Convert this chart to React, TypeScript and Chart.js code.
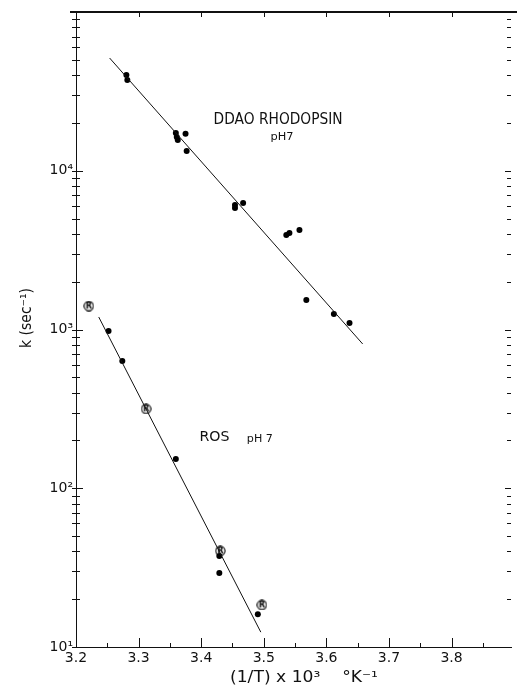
import { useEffect, useRef } from 'react';
import { Chart, registerables } from 'chart.js';

Chart.register(...registerables);

// DDAO rhodopsin, pH 7 (filled dots)
const ddaoX = [3.2805, 3.282, 3.3595, 3.361, 3.3626, 3.375, 3.3768, 3.454, 3.454, 3.467, 3.536, 3.541, 3.557, 3.568, 3.612, 3.637];
const ddaoK = [40100, 37300, 17300, 16300, 15600, 17100, 13300, 6080, 5820, 6270, 3940, 4050, 4240, 1535, 1253, 1099];
const ddaoFitX = [3.2537, 3.658];
const ddaoFitK = [51300, 811];

// ROS, pH 7 (filled dots and circled-R points)
const rosDotX = [3.252, 3.274, 3.3595, 3.429, 3.429, 3.4905];
const rosDotK = [979, 634, 153, 37.4, 29.2, 16.1];
const rosRX = [3.2205, 3.312, 3.4305, 3.497];
const rosRK = [1406, 316, 40.3, 18.4];
const rosFitX = [3.2363, 3.4953];
const rosFitK = [1199, 12.4];

// axes
const xTickValues = [3.2, 3.25, 3.3, 3.35, 3.4, 3.45, 3.5, 3.55, 3.6, 3.65, 3.7, 3.75, 3.8, 3.85];
const xTickLabels = ['3.2', '', '3.3', '', '3.4', '', '3.5', '', '3.6', '', '3.7', '', '3.8', ''];
const yDecades = [10, 100, 1000, 10000];
const yMantissas = [1, 2, 3, 4, 5, 6, 7, 8, 9];
const yDecadeLabels = ['10¹', '10²', '10³', '10⁴'];

const FONT = '"DejaVu Sans", "Liberation Sans", sans-serif';

const pairs = (xs: number[], ys: number[]) => xs.map((x, i) => ({ x, y: ys[i] }));

function makeRMarker(): HTMLCanvasElement {
  const c = document.createElement('canvas');
  c.width = 11;
  c.height = 11;
  const g = c.getContext('2d')!;
  g.strokeStyle = '#000';
  g.lineWidth = 1.1;
  g.beginPath();
  g.arc(5.5, 5.5, 4.6, 0, Math.PI * 2);
  g.stroke();
  g.fillStyle = '#000';
  g.font = 'bold 8px ' + FONT;
  g.textAlign = 'center';
  g.textBaseline = 'middle';
  g.fillText('R', 5.6, 6);
  return c;
}

function fitText(ctx: CanvasRenderingContext2D, text: string, cx: number, cy: number, size: number, width: number, rot = 0) {
  ctx.save();
  ctx.font = size + 'px ' + FONT;
  const w = ctx.measureText(text).width;
  ctx.translate(cx, cy);
  if (rot) ctx.rotate(rot);
  ctx.scale(width / w, 1);
  ctx.fillStyle = '#111';
  ctx.textAlign = 'center';
  ctx.textBaseline = 'middle';
  ctx.fillText(text, 0, 0);
  ctx.restore();
}

const framePlugin = {
  id: 'frame',
  afterDraw(chart: any) {
    const { ctx, chartArea: a, scales } = chart;
    const xs = scales.x;
    const ys = scales.y;
    ctx.save();
    ctx.strokeStyle = '#111';
    // top border
    ctx.lineWidth = 2;
    ctx.beginPath();
    ctx.moveTo(70, a.top);
    ctx.lineTo(517, a.top);
    ctx.stroke();
    ctx.lineWidth = 1;
    // y ticks left and right
    yDecades.forEach((d) => {
      yMantissas.forEach((m) => {
        const v = d * m;
        const py = Math.round(ys.getPixelForValue(v)) + 0.5;
        const major = m === 1;
        ctx.beginPath();
        ctx.moveTo(a.left - 4, py);
        ctx.lineTo(a.left + (major ? 7 : 4), py);
        ctx.moveTo(a.right - (major ? 6 : 4), py);
        ctx.lineTo(a.right, py);
        ctx.stroke();
      });
    });
    // x ticks bottom and top
    xTickValues.forEach((v, i) => {
      const px = Math.round(xs.getPixelForValue(v)) + 0.5;
      const major = xTickLabels[i] !== '';
      ctx.beginPath();
      ctx.moveTo(px, a.bottom);
      ctx.lineTo(px, a.bottom - (major ? 9 : 4));
      if (major) {
        ctx.moveTo(px, a.top);
        ctx.lineTo(px, a.top + 5);
      }
      ctx.stroke();
    });
    // annotations at data positions
    fitText(ctx, 'DDAO RHODOPSIN', xs.getPixelForValue(3.5229), ys.getPixelForValue(20880), 15, 129);
    fitText(ctx, 'pH7', xs.getPixelForValue(3.5292), ys.getPixelForValue(16320), 11, 23);
    fitText(ctx, 'ROS', xs.getPixelForValue(3.4211), ys.getPixelForValue(210), 14, 30);
    fitText(ctx, 'pH 7', xs.getPixelForValue(3.4937), ys.getPixelForValue(204), 11, 26);
    // axis titles
    fitText(ctx, 'k (sec⁻¹)', 27, 318, 15, 60, -Math.PI / 2);
    fitText(ctx, '(1/T) x 10³    °K⁻¹', 304, 678, 15, 148);
    ctx.restore();
  },
};

export default function App() {
  const ref = useRef<HTMLCanvasElement>(null);
  useEffect(() => {
    const canvas = ref.current!;
    const rMarker = makeRMarker();
    const chart = new Chart(canvas, {
      type: 'scatter',
      data: {
        datasets: [
          {
            type: 'line',
            data: pairs(ddaoFitX, ddaoFitK),
            borderColor: '#111',
            borderWidth: 1,
            pointRadius: 0,
            fill: false,
          },
          {
            type: 'line',
            data: pairs(rosFitX, rosFitK),
            borderColor: '#111',
            borderWidth: 1,
            pointRadius: 0,
            fill: false,
          },
          {
            data: pairs(ddaoX, ddaoK),
            backgroundColor: '#000',
            borderColor: '#000',
            pointRadius: 3,
            borderWidth: 0,
          },
          {
            data: pairs(rosDotX, rosDotK),
            backgroundColor: '#000',
            borderColor: '#000',
            pointRadius: 3,
            borderWidth: 0,
          },
          {
            data: pairs(rosRX, rosRK),
            pointStyle: rMarker,
            pointRadius: 5,
            backgroundColor: '#000',
            borderColor: '#000',
          },
        ] as any,
      },
      options: {
        animation: false,
        responsive: false,
        maintainAspectRatio: false,
        layout: { padding: { top: 12, right: 1, left: 0, bottom: 0 } },
        plugins: { legend: { display: false }, tooltip: { enabled: false } },
        scales: {
          x: {
            type: 'linear',
            min: 3.2,
            max: 3.895,
            afterBuildTicks: (s: any) => {
              s.ticks = xTickValues.map((v) => ({ value: v }));
            },
            afterFit: (s: any) => {
              s.height = 42;
            },
            grid: { display: false, drawTicks: false },
            border: { display: true, color: '#111', width: 1 },
            ticks: {
              autoSkip: false,
              maxRotation: 0,
              padding: 3,
              color: '#111',
              font: { family: FONT, size: 14 },
              callback: (_v: any, i: number) => xTickLabels[i] ?? '',
            },
          },
          y: {
            type: 'logarithmic',
            min: 10,
            max: 100000,
            afterBuildTicks: (s: any) => {
              const t: any[] = [];
              yDecades.forEach((d) => yMantissas.forEach((m) => t.push({ value: d * m })));
              t.push({ value: 100000 });
              s.ticks = t;
            },
            afterFit: (s: any) => {
              s.width = 76;
            },
            grid: { display: false, drawTicks: false },
            border: { display: true, color: '#111', width: 1, dash: [7, 2] },
            ticks: {
              autoSkip: false,
              padding: 3,
              color: '#111',
              font: { family: FONT, size: 14 },
              callback: (v: any) => {
                const idx = yDecades.indexOf(Number(v));
                return idx >= 0 ? yDecadeLabels[idx] : '';
              },
            },
          },
        },
      },
      plugins: [framePlugin],
    });
    return () => chart.destroy();
  }, []);
  return (
    <div style={{ position: 'fixed', left: 0, top: 0, width: 517, height: 689, background: '#fff' }}>
      <canvas ref={ref} width={517} height={689} style={{ display: 'block' }} />
    </div>
  );
}
